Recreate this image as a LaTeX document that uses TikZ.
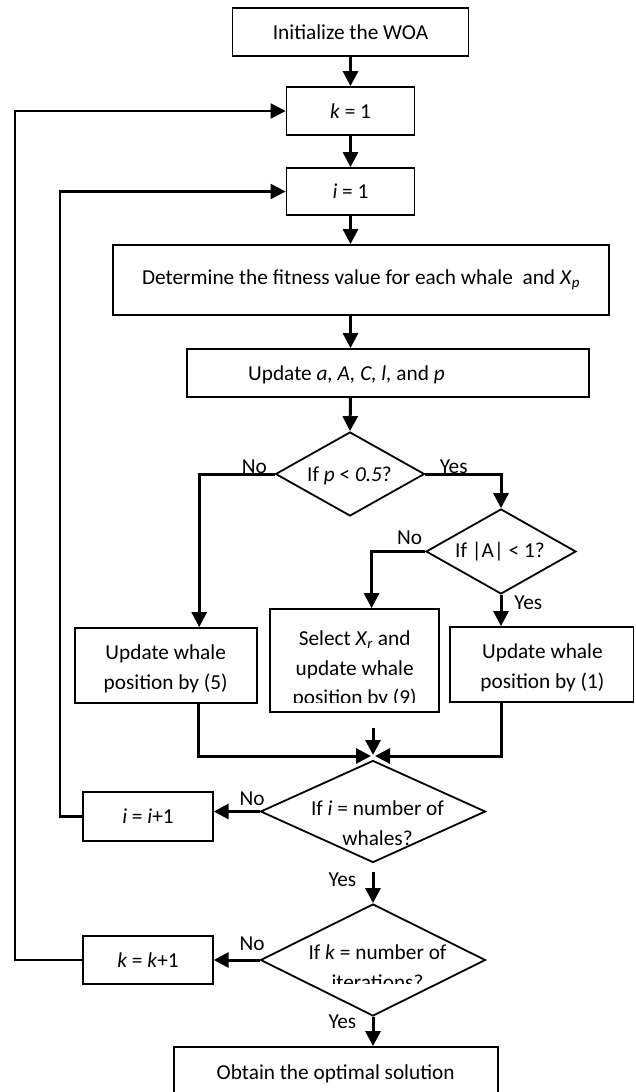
\documentclass[tikz,border=0pt]{standalone}
\usepackage{fontspec}
\setmainfont{Carlito}
\usetikzlibrary{arrows.meta,shapes.geometric}
\newcommand\flowfont{\fontsize{21.3}{29.5}\selectfont}

\tikzset{
  stepbox/.style={draw, line width=1.8pt, inner sep=0pt, align=center, font=\flowfont},
  decision/.style={draw, diamond, line width=1.8pt, inner sep=0pt},
  flowtext/.style={inner sep=0pt, align=center, font=\flowfont},
  answer/.style={inner sep=0pt, anchor=base, font=\flowfont},
  flow/.style={line width=3pt, -{Triangle[length=15pt,width=15pt]}},
  loopback/.style={line width=2.3pt, -{Triangle[length=15pt,width=15pt]}},
}

\begin{document}
\begin{tikzpicture}[x=1pt,y=1pt]
  \useasboundingbox (0,0) rectangle (636,-1092);

  % main column
  \node[stepbox, minimum width=236pt, minimum height=48pt] (init) at (350.5,-32) {Initialize the WOA};
  \node[stepbox, minimum width=128pt, minimum height=48pt] (kone) at (350.5,-111) {\textit{k} = 1};
  \node[stepbox, minimum width=128pt, minimum height=47pt] (ione) at (350.5,-191.5) {\textit{i} = 1};
  \node[stepbox, minimum width=496pt, minimum height=70pt] (fitness) at (361,-280)
    {Determine the fitness value for each whale~ and \textit{X}\textsubscript{\textit{p}}};
  \node[stepbox, minimum width=402pt, minimum height=48pt] (update) at (388,-373) {};
  \node[flowtext] (updtxt) at (346.5,-375) {Update \textit{a, A, C, l,} and \textit{p}};

  % decisions on p and |A|
  \node[decision, minimum width=149pt, minimum height=84pt] (pcheck) at (350,-474) {};
  \node[flowtext] (pchecktxt) at (349.5,-475.5) {If \textit{p} < \textit{0.5}?};
  \node[decision, minimum width=150pt, minimum height=85pt] (acheck) at (501,-551.5) {};
  \node[flowtext] (achecktxt) at (500,-551.5) {If |A| < 1?};

  % position updates
  \node[stepbox, minimum width=182pt, minimum height=75pt] (spiral) at (165.7,-665.5) {};
  \node[flowtext] (spiraltxt) at (165.7,-668.7) {Update whale\\position by (5)};
  \node[stepbox, minimum width=169pt, minimum height=103pt] (search) at (354.6,-660.5) {};
  \begin{scope}
    \clip (search.north west) rectangle ([yshift=10pt]search.south east);
    \node[flowtext] (searchtxt) at (354.7,-669.5)
      {Select \textit{X}\textsubscript{\textit{r}} and\\update whale\\position by (9)};
  \end{scope}
  \node[stepbox, minimum width=183.5pt, minimum height=75pt] (encircle) at (541.8,-664.5) {};
  \node[flowtext] (encircletxt) at (542.4,-667.7) {Update whale\\position by (1)};

  \coordinate (join) at (373,-756);
  \coordinate (jointop) at (373,-728);

  % loop checks
  \node[decision, minimum width=225pt, minimum height=102pt] (icheck) at (373,-811.5) {};
  \node[flowtext] (ichecktxt) at (377.5,-823) {If \textit{i} = number of\\whales?};
  \node[stepbox, minimum width=129.6pt, minimum height=49pt] (inext) at (148,-816.5) {\textit{i} = \textit{i}+1};
  \coordinate (yesi) at (373,-872);
  \node[decision, minimum width=225pt, minimum height=112pt] (kcheck) at (373,-960) {};
  \begin{scope}
    \clip (250,-900) rectangle (500,-983);
    \node[flowtext] (kchecktxt) at (377.5,-967.3) {If \textit{k} = number of\\iterations?};
  \end{scope}
  \node[stepbox, minimum width=129.6pt, minimum height=48pt] (knext) at (148,-960) {\textit{k} = \textit{k}+1};
  \node[stepbox, minimum width=324pt, minimum height=54pt] (final) at (335.7,-1074) {Obtain the optimal solution};

  % connectors
  \draw[flow] (init) -- (kone);
  \draw[flow] (kone) -- (ione);
  \draw[flow] (ione.south) -- (ione.south |- fitness.north);
  \draw[flow] (ione.south |- fitness.south) -- (ione.south |- update.north);
  \draw[flow] (ione.south |- update.south) -- (pcheck.north);
  \draw[flow] (pcheck.west) -| ([xshift=33.5pt]spiral.north);
  \draw[flow] (pcheck.east) -| (acheck.north);
  \draw[flow] (acheck.west) -| ([xshift=17pt]search.north);
  \draw[flow] (acheck.south) -- (acheck.south |- encircle.north);
  \draw[flow] ([xshift=32.5pt]spiral.south) |- ([xshift=-2pt]join);
  \draw[flow] (acheck.south |- encircle.south) |- ([xshift=2pt]join);
  \draw[flow] (jointop) -- ([yshift=1pt]join);
  \draw[flow] (icheck.west) -- (icheck.west -| inext.east);
  \draw[loopback] (inext.west) -- ++(-22,0) |- (ione.west);
  \draw[flow] (yesi) -- (kcheck.north);
  \draw[flow] (kcheck.west) -- (kcheck.west -| knext.east);
  \draw[loopback] (knext.west) -- ++(-67,0) |- (kone.west);
  \draw[flow] (kcheck.south) -- (kcheck.south |- final.north);

  % branch labels
  \node[answer] (pno) at (254.4,-473) {No};
  \node[answer] (pyes) at (453.7,-473) {Yes};
  \node[answer] (ano) at (409.7,-544) {No};
  \node[answer] (ayes) at (528.3,-609) {Yes};
  \node[answer] (ino) at (252,-805) {No};
  \node[answer] (iyes) at (342.4,-886) {Yes};
  \node[answer] (kno) at (252,-950) {No};
  \node[answer] (kyes) at (342.4,-1028) {Yes};
\end{tikzpicture}
\end{document}
